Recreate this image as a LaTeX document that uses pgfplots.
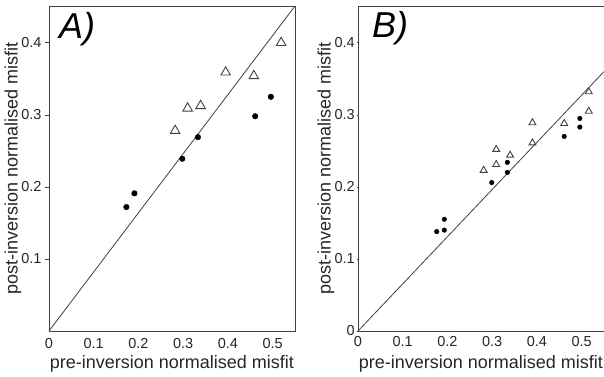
\documentclass[border=0pt]{standalone}
\usepackage{pgfplots}
\pgfplotsset{compat=1.18}
\usepackage{fontspec}
\setmainfont{Liberation Sans}
\definecolor{ink}{gray}{0.25}
\definecolor{txt}{gray}{0.15}
\begin{document}
\begin{tikzpicture}
\useasboundingbox (-49pt,-45pt) rectangle (555pt,331pt);
\pgfplotsset{
  panel/.style={
    scale only axis, width=246pt, height=325pt,
    xmin=0, xmax=0.55, ymin=0, ymax=0.451,
    axis line style={ink, line width=0.9pt},
    xtick={0,0.1,0.2,0.3,0.4,0.5},
    xticklabels={0,0.1,0.2,0.3,0.4,0.5},
    ticklabel style={font=\fontsize{14.5}{14.5}\selectfont, text=txt},
    /pgf/number format/assume math mode=true,
    x tick style={draw=none},
    y tick style={ink, line width=0.6pt},
    ytick pos=left,
    tick align=outside,
    xlabel={pre-inversion normalised misfit},
    ylabel={post-inversion normalised misfit},
    label style={font=\fontsize{18}{18}\selectfont, text=txt},
    xlabel style={at={(axis description cs:0.5,-0.1)}, anchor=center},
    clip=false,
  },
  dots/.style={only marks, mark=*, mark options={fill=black, draw=black}},
  tris/.style={only marks, mark=triangle, mark options={draw=ink, fill=white, line width=0.9pt}},
}
\begin{axis}[panel, at={(0pt,0pt)}, anchor=south west,
  ytick={0.1,0.2,0.3,0.4}, yticklabels={0.1,0.2,0.3,0.4},
  major tick length=4pt,
  ylabel style={at={(axis description cs:-0.146,0.5)}, anchor=center}]
\addplot[ink, line width=0.8pt] coordinates {(0,0) (0.55,0.451)};
\addplot[dots, mark size=2.8pt] coordinates {
(0.173,0.172) (0.191,0.191) (0.298,0.239) (0.333,0.269) (0.461,0.298) (0.496,0.325)};
\addplot[tris, mark size=5.5pt] coordinates {
(0.282,0.278) (0.310,0.309) (0.339,0.3125) (0.395,0.359) (0.458,0.354) (0.519,0.400)};
\node[anchor=north west, inner sep=0pt, font=\fontsize{36}{36}\selectfont\itshape, text=black]
  at (rel axis cs:0,1) [xshift=10pt, yshift=-6pt] {A)};
\end{axis}
\begin{axis}[panel, at={(309pt,0pt)}, anchor=south west,
  ytick={0,0.1,0.2,0.3,0.4}, yticklabels={0,0.1,0.2,0.3,0.4},
  major tick length=1.5pt,
  yticklabel style={inner sep=1.5pt},
  ylabel style={at={(axis description cs:-0.13,0.5)}, anchor=center}]
\addplot[ink, line width=0.8pt] coordinates {(0,0) (0.55,0.36)};
\addplot[dots, mark size=2.3pt] coordinates {
(0.176,0.138) (0.193,0.140) (0.193,0.155) (0.299,0.206) (0.334,0.220) (0.334,0.234)
(0.461,0.270) (0.496,0.283) (0.496,0.295)};
\addplot[tris, mark size=4pt] coordinates {
(0.281,0.223) (0.309,0.231) (0.309,0.252) (0.340,0.244) (0.390,0.261) (0.390,0.289)
(0.461,0.288) (0.516,0.305) (0.516,0.332)};
\node[anchor=north west, inner sep=0pt, font=\fontsize{36}{36}\selectfont\itshape, text=black]
  at (rel axis cs:0,1) [xshift=14pt, yshift=-5pt] {B)};
\end{axis}
\end{tikzpicture}
\end{document}
